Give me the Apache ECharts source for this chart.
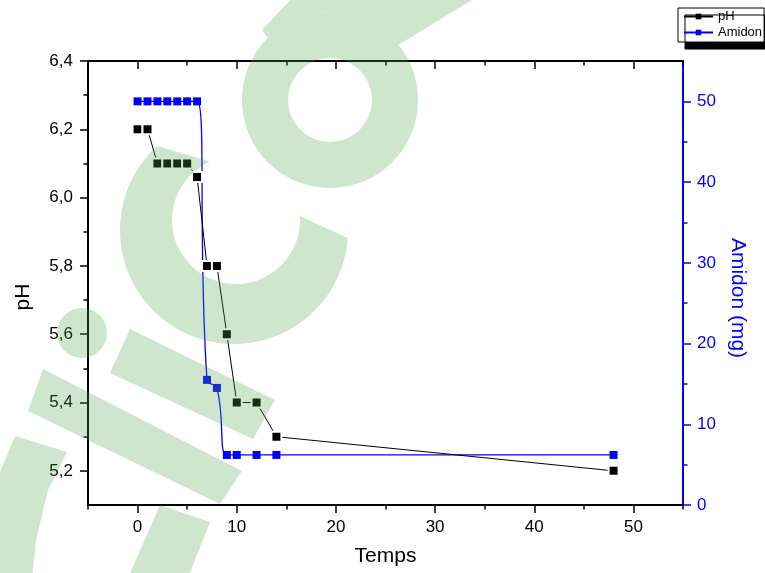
<!DOCTYPE html>
<html>
<head>
<meta charset="utf-8">
<script src="https://cdn.jsdelivr.net/npm/echarts@6/dist/echarts.min.js"></script>
<style>
  html, body { margin: 0; padding: 0; background: #fff; }
  #chart { width: 765px; height: 573px; }
</style>
</head>
<body>
<div id="chart"></div>
<script>
// Measurements over time
const temps = [0, 1, 2, 3, 4, 5, 6, 7, 8, 9, 10, 12, 14, 48];
const phValues = [6.2, 6.2, 6.1, 6.1, 6.1, 6.1, 6.06, 5.8, 5.8, 5.6, 5.4, 5.4, 5.3, 5.2];
const amidonValues = [50, 50, 50, 50, 50, 50, 50, 15.5, 14.5, 6.2, 6.2, 6.2, 6.2, 6.2];

// Tick positions (major ones carry labels)
const tempsTicks = [0, 10, 20, 30, 40, 50];
const tempsMinorTicks = [-5, 5, 15, 25, 35, 45, 55];
const phTicks = [5.2, 5.4, 5.6, 5.8, 6.0, 6.2, 6.4];
const phMinorTicks = [5.3, 5.5, 5.7, 5.9, 6.1, 6.3];
const amidonTicks = [0, 10, 20, 30, 40, 50];
const amidonMinorTicks = [5, 15, 25, 35, 45];

const FONT = '"Liberation Sans", Arial, sans-serif';
const BLACK = '#000000';
const BLUE = '#0000ff';

function pairs(xs, ys) { return xs.map((x, i) => [x, ys[i]]); }

function baseAxis(extra) {
  return Object.assign({
    type: 'value',
    splitLine: { show: false },
    axisPointer: { show: false }
  }, extra);
}

function minorAxis(position, min, max, values, color, inside) {
  return baseAxis({
    position, min, max,
    axisLine: { show: false, onZero: false },
    axisTick: { show: true, inside: !!inside, customValues: values, length: 4.5, lineStyle: { color, width: 1.5 } },
    axisLabel: { show: false }
  });
}

// Semi-transparent green logo shapes laid over the plot
function arc(cx, cy, r, a0, a1, n) {
  const pts = [];
  for (let i = 0; i <= n; i++) {
    const a = (a0 + (a1 - a0) * i / n) * Math.PI / 180;
    pts.push([cx + r * Math.cos(a), cy - r * Math.sin(a)]);
  }
  return pts;
}
const LOGO_FILL = 'rgba(80,160,80,0.28)';
const logoPolygons = [
  arc(234, 230, 114, 132.5, 356, 70).concat(arc(236, 220, 64, 363.6, 113.8, 60)),
  [[480, -5], [400, 44]].concat(arc(330, 100, 88, 38.7, 135, 24)).concat([[262, 30], [295, -5]]),
  [[130, 329], [275, 400], [253, 439], [110, 373]],
  [[43, 369], [242, 471], [220, 504], [28, 411]],
  [[160, 505], [210, 522], [188, 578], [128, 578]],
  [[15, 436], [67, 452], [48, 490], [36, 540], [32, 578], [-5, 578], [-5, 484]]
];
const logoElements = logoPolygons.map(pts => ({
  type: 'polygon', z: 100, silent: true,
  shape: { points: pts }, style: { fill: LOGO_FILL }
})).concat([
  { type: 'ring', z: 100, silent: true, shape: { cx: 330, cy: 100, r: 88, r0: 42 }, style: { fill: LOGO_FILL } },
  { type: 'circle', z: 100, silent: true, shape: { cx: 82, cy: 333, r: 25 }, style: { fill: LOGO_FILL } }
]);

const chart = echarts.init(document.getElementById('chart'), null, { renderer: 'canvas' });

chart.setOption({
  animation: false,
  backgroundColor: '#ffffff',
  textStyle: { fontFamily: FONT },
  grid: { left: 88, right: 82, top: 61, bottom: 68, containLabel: false },
  legend: {
    data: [
      { name: 'pH', itemStyle: { borderWidth: 0 } },
      { name: 'Amidon' }
    ],
    orient: 'vertical',
    left: 678, top: 8,
    itemWidth: 29, itemHeight: 7, itemGap: 3,
    padding: [2, 2, 3, 5],
    backgroundColor: '#ffffff',
    borderColor: BLACK, borderWidth: 1, borderRadius: 0,
    shadowColor: BLACK, shadowBlur: 0, shadowOffsetX: 7, shadowOffsetY: 7,
    textStyle: { fontFamily: FONT, fontSize: 13, color: BLACK, lineHeight: 13 }
  },
  xAxis: [
    baseAxis({
      position: 'bottom', min: -5, max: 55,
      axisLine: { show: true, onZero: false, lineStyle: { color: BLACK, width: 2 } },
      axisTick: { show: true, customValues: tempsTicks, length: 8, lineStyle: { color: BLACK, width: 1.5 } },
      axisLabel: { customValues: tempsTicks, margin: 14, fontSize: 17, color: BLACK, fontFamily: FONT },
      name: 'Temps', nameLocation: 'middle', nameGap: 41,
      nameTextStyle: { fontSize: 21, color: BLACK, fontFamily: FONT }
    }),
    minorAxis('bottom', -5, 55, tempsMinorTicks, BLACK, false),
    baseAxis({
      position: 'top', min: -5, max: 55,
      axisLine: { show: true, onZero: false, lineStyle: { color: BLACK, width: 2 } },
      axisTick: { show: true, inside: true, customValues: tempsTicks, length: 8, lineStyle: { color: BLACK, width: 1.5 } },
      axisLabel: { show: false }
    }),
    minorAxis('top', -5, 55, tempsMinorTicks, BLACK, true)
  ],
  yAxis: [
    baseAxis({
      position: 'left', min: 5.1, max: 6.4,
      axisLine: { show: true, onZero: false, lineStyle: { color: BLACK, width: 2 } },
      axisTick: { show: true, customValues: phTicks, length: 8, lineStyle: { color: BLACK, width: 1.5 } },
      axisLabel: {
        customValues: phTicks, margin: 15, fontSize: 17, color: BLACK, fontFamily: FONT,
        formatter: v => v.toFixed(1).replace('.', ',')
      },
      name: 'pH', nameLocation: 'middle', nameGap: 54,
      nameTextStyle: { fontSize: 21, color: BLACK, fontFamily: FONT, padding: [0, 28, 0, 0] }
    }),
    minorAxis('left', 5.1, 6.4, phMinorTicks, BLACK, false),
    baseAxis({
      position: 'right', min: 0, max: 55,
      axisLine: { show: true, onZero: false, lineStyle: { color: BLUE, width: 2 } },
      axisTick: { show: true, customValues: amidonTicks, length: 8, lineStyle: { color: BLUE, width: 1.5 } },
      axisLabel: { customValues: amidonTicks, margin: 14, fontSize: 17, color: BLUE, fontFamily: FONT },
      name: 'Amidon (mg)', nameLocation: 'middle', nameGap: 44, nameRotate: -90,
      nameTextStyle: { fontSize: 21, color: BLUE, fontFamily: FONT, padding: [0, 0, 0, 30] }
    }),
    minorAxis('right', 0, 55, amidonMinorTicks, BLUE, false)
  ],
  series: [
    {
      name: 'pH', type: 'line', xAxisIndex: 0, yAxisIndex: 0,
      data: pairs(temps, phValues),
      symbol: 'rect', symbolSize: 10,
      itemStyle: { color: BLACK, borderColor: '#ffffff', borderWidth: 2 },
      lineStyle: { color: BLACK, width: 1 },
      emphasis: { disabled: true },
      z: 3
    },
    {
      name: 'Amidon', type: 'line', xAxisIndex: 0, yAxisIndex: 2,
      data: pairs(temps, amidonValues),
      symbol: 'rect', symbolSize: 8,
      smooth: 0.5,
      itemStyle: { color: BLUE },
      lineStyle: { color: BLUE, width: 1.3 },
      emphasis: { disabled: true },
      z: 2
    }
  ],
  graphic: { elements: logoElements }
});
</script>
</body>
</html>
